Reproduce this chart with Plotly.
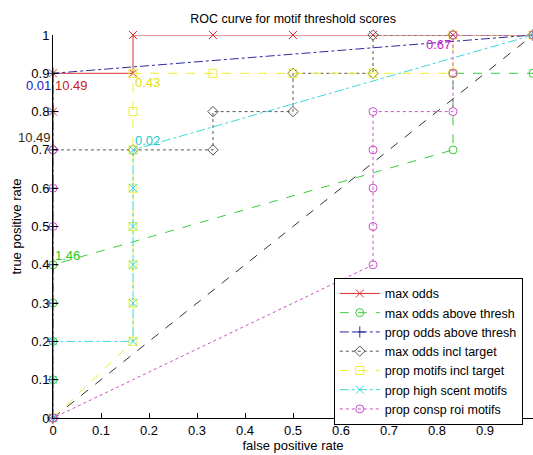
import plotly.graph_objects as go

# ROC points (false positive rate, true positive rate) for each scoring scheme
fpr_max_odds = [0, 0, 0, 0.1667, 0.1667, 0.3333, 0.5, 0.6667, 0.8333, 1]
tpr_max_odds = [0, 0.8, 0.9, 0.9, 1, 1, 1, 1, 1, 1]

fpr_max_above = [0, 0, 0, 0, 0, 0.8333, 0.8333, 1]
tpr_max_above = [0, 0.1, 0.2, 0.3, 0.4, 0.7, 0.9, 0.9]

fpr_prop_above = [0, 0, 0, 0, 0, 0, 0, 0, 0, 0, 1]
tpr_prop_above = [0, 0.1, 0.2, 0.3, 0.4, 0.5, 0.6, 0.7, 0.8, 0.9, 1]

fpr_max_incl = [0, 0, 0.1667, 0.3333, 0.3333, 0.5, 0.5, 0.6667, 0.6667, 0.8333, 1]
tpr_max_incl = [0, 0.7, 0.7, 0.7, 0.8, 0.8, 0.9, 0.9, 1, 1, 1]

fpr_prop_motifs = [0, 0.1667, 0.1667, 0.1667, 0.1667, 0.1667, 0.1667, 0.1667, 0.1667,
                   0.3333, 0.5, 0.6667, 0.8333, 0.8333, 1]
tpr_prop_motifs = [0, 0.2, 0.3, 0.4, 0.5, 0.6, 0.7, 0.8, 0.9,
                   0.9, 0.9, 0.9, 0.9, 1, 1]

fpr_high_scent = [0, 0, 0, 0.1667, 0.1667, 0.1667, 0.1667, 0.1667, 0.1667, 1]
tpr_high_scent = [0, 0.1, 0.2, 0.2, 0.3, 0.4, 0.5, 0.6, 0.7, 1]

fpr_consp_roi = [0, 0, 0, 0, 0, 0.6667, 0.6667, 0.6667, 0.6667, 0.6667,
                 0.8333, 0.8333, 0.8333, 1]
tpr_consp_roi = [0, 0.5, 0.6, 0.7, 0, 0.4, 0.5, 0.6, 0.7, 0.8,
                 0.8, 0.9, 1, 1]

chance_x = [0, 1]
chance_y = [0, 1]

# threshold annotations: text, x, y
threshold_labels = [
    ("0.01", 0, 0.9),
    ("10.49", 0, 0.9),
    ("0.43", 0.1667, 0.9),
    ("10.49", 0, 0.7),
    ("0.02", 0.1667, 0.7),
    ("1.46", 0, 0.4),
    ("0.67", 0.8333, 1.0),
]

x_ticks = [0, 0.1, 0.2, 0.3, 0.4, 0.5, 0.6, 0.7, 0.8, 0.9]
x_tick_text = ["0", "0.1", "0.2", "0.3", "0.4", "0.5", "0.6", "0.7", "0.8", "0.9"]
y_ticks = [0, 0.1, 0.2, 0.3, 0.4, 0.5, 0.6, 0.7, 0.8, 0.9, 1]
y_tick_text = ["0", "0.1", "0.2", "0.3", "0.4", "0.5", "0.6", "0.7", "0.8", "0.9", "1"]

FONT = "Liberation Sans, Arial, Helvetica, sans-serif"

fig = go.Figure()

fig.add_trace(go.Scatter(
    x=chance_x, y=chance_y, mode="lines", showlegend=False,
    line=dict(color="#333333", width=1, dash="dash"), cliponaxis=False))

series = [
    ("max odds", fpr_max_odds, tpr_max_odds, "#d83030", "solid", "x-thin-open"),
    ("max odds above thresh", fpr_max_above, tpr_max_above, "#3ccc3c", "dash", "circle-open"),
    ("prop odds above thresh", fpr_prop_above, tpr_prop_above, "#2c2c9c", "dashdot", "cross-thin-open"),
    ("max odds incl target", fpr_max_incl, tpr_max_incl, "#555555", "dot", "diamond-open"),
    ("prop motifs incl target", fpr_prop_motifs, tpr_prop_motifs, "#eeee30", "dash", "square-open"),
    ("prop high scent motifs", fpr_high_scent, tpr_high_scent, "#3cd8d8", "dashdot", "x-thin-open"),
    ("prop consp roi motifs", fpr_consp_roi, tpr_consp_roi, "#c850c8", "dot", "circle-open"),
]

for name, xs, ys, color, dash, symbol in series:
    fig.add_trace(go.Scatter(
        x=xs, y=ys, name=name, mode="lines+markers", cliponaxis=False,
        line=dict(color=color, width=1, dash=dash),
        marker=dict(symbol=symbol, size=8, color=color, line=dict(color=color, width=1)),
    ))

# colour, horizontal anchor, vertical anchor, vertical nudge (px)
label_styles = [
    ("#2020c0", "right", "top", -3),
    ("#cc2222", "left", "top", -3),
    ("#e0e010", "left", "top", 0),
    ("#3a2c14", "right", "bottom", 3),
    ("#22cccc", "left", "bottom", 0),
    ("#22cc22", "left", "bottom", 0),
    ("#cc22cc", "right", "top", 0),
]
for (text, x, y), (color, xa, ya, dy) in zip(threshold_labels, label_styles):
    fig.add_annotation(x=x, y=y, text=text, showarrow=False, xanchor=xa, yanchor=ya,
                       yshift=dy, font=dict(family=FONT, size=13, color=color))

fig.update_layout(
    width=533, height=455,
    margin=dict(l=53, r=0, t=35, b=37),
    paper_bgcolor="white", plot_bgcolor="white",
    font=dict(family=FONT, size=12, color="black"),
    title=dict(text="ROC curve for motif threshold scores", x=0.55, xanchor="center",
               y=0.96, yanchor="middle", font=dict(family=FONT, size=12.5, color="black")),
    showlegend=True,
    legend=dict(x=0.585, xanchor="left", y=0.366, yanchor="top",
                bgcolor="white", bordercolor="black", borderwidth=1,
                font=dict(family=FONT, size=12.5, color="black"),
                itemwidth=40, tracegroupgap=0),
)

fig.update_xaxes(range=[0, 1], autorange=False, showgrid=False, zeroline=False,
                 showline=True, linecolor="black", linewidth=1,
                 ticks="inside", ticklen=5, tickcolor="black",
                 tickvals=x_ticks, ticktext=x_tick_text,
                 tickfont=dict(family=FONT, size=13, color="black"),
                 title=dict(text="false positive rate", standoff=4,
                            font=dict(family=FONT, size=13, color="black")))
fig.update_yaxes(range=[0, 1], autorange=False, showgrid=False, zeroline=False,
                 showline=True, linecolor="black", linewidth=1,
                 ticks="inside", ticklen=5, tickcolor="black",
                 tickvals=y_ticks, ticktext=y_tick_text,
                 tickfont=dict(family=FONT, size=13, color="black"),
                 title=dict(text="true positive rate", standoff=6,
                            font=dict(family=FONT, size=13, color="black")))

fig.write_html("out.html")
